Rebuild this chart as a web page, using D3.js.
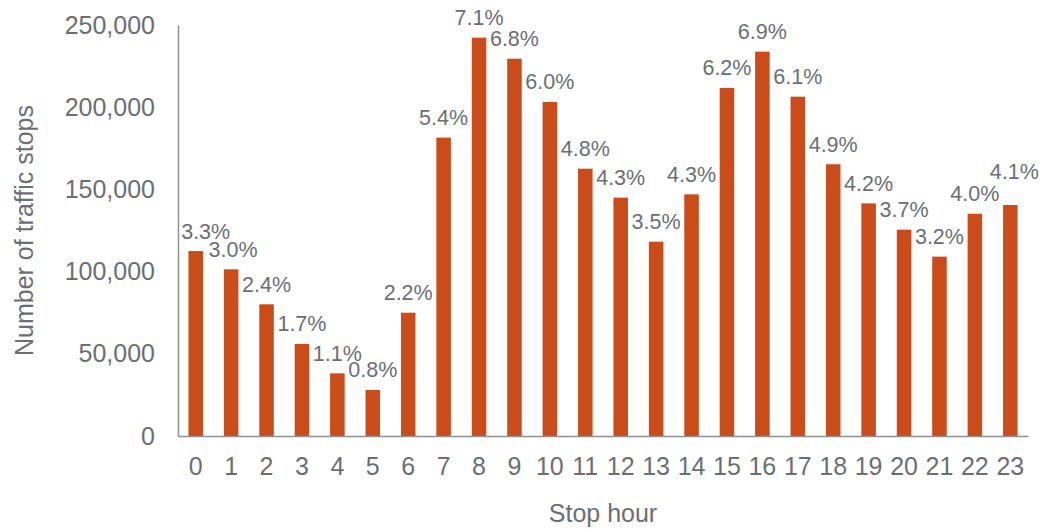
<!DOCTYPE html>
<html>
<head>
<meta charset="utf-8">
<script src="https://cdn.jsdelivr.net/npm/d3@7"></script>
<style>
  html, body { margin: 0; padding: 0; background: #fff; }
  text { font-family: "Liberation Sans", Arial, sans-serif; fill: #6b6f74; }
</style>
</head>
<body>
<svg id="chart" width="1041" height="529"></svg>
<script>
// Traffic stops by hour of day
const hours = ["0","1","2","3","4","5","6","7","8","9","10","11","12","13","14","15","16","17","18","19","20","21","22","23"];
const stops = [112500, 101400, 80100, 56000, 38100, 28000, 75000, 181500, 242300, 229500, 203200, 162600,
               145000, 118200, 147000, 211700, 233800, 206400, 165300, 141500, 125500, 109100, 135200, 140500];
const shareLabels = ["3.3%","3.0%","2.4%","1.7%","1.1%","0.8%","2.2%","5.4%","7.1%","6.8%","6.0%","4.8%",
                     "4.3%","3.5%","4.3%","6.2%","6.9%","6.1%","4.9%","4.2%","3.7%","3.2%","4.0%","4.1%"];
const yTicks = [0, 50000, 100000, 150000, 200000, 250000];

const svg = d3.select("#chart");
const plot = { left: 178, right: 1028, top: 25, bottom: 436 };

const x = d3.scaleBand().domain(hours).range([plot.left, plot.right]).paddingInner(0.59).paddingOuter(0.295);
const y = d3.scaleLinear().domain([0, 250000]).range([plot.bottom, plot.top]);

// bars
svg.append("g").selectAll("rect").data(stops).join("rect")
  .attr("x", (d, i) => x(hours[i]))
  .attr("y", d => y(d))
  .attr("width", x.bandwidth())
  .attr("height", d => y(0) - y(d))
  .attr("fill", "#c94c1a");

// share labels above bars; a few are nudged clear of the axis and of their neighbour
const labelNudge = { 0: [10, 0], 1: [2, 0], 23: [4, -14] };
svg.append("g").selectAll("text").data(stops).join("text")
  .attr("x", (d, i) => x(hours[i]) + x.bandwidth() / 2 + (labelNudge[i] ? labelNudge[i][0] : 0))
  .attr("y", (d, i) => y(d) - 12.5 + (labelNudge[i] ? labelNudge[i][1] : 0))
  .attr("text-anchor", "middle")
  .style("font-size", "21.5px")
  .text((d, i) => shareLabels[i]);

// y axis
const yAxis = svg.append("g").attr("transform", `translate(${plot.left},0)`)
  .call(d3.axisLeft(y).tickValues(yTicks).tickSize(0).tickPadding(23).tickFormat(d3.format(",")));
yAxis.select(".domain").attr("stroke", "#8e9196").attr("stroke-width", 1.5);
yAxis.selectAll("text").style("font-size", "25px").attr("fill", "#6b6f74").attr("font-family", null);

// x axis
const xAxis = svg.append("g").attr("transform", `translate(0,${plot.bottom})`)
  .call(d3.axisBottom(x).tickSize(0).tickPadding(21));
xAxis.select(".domain").attr("stroke", "#8e9196").attr("stroke-width", 1.5);
xAxis.selectAll("text").style("font-size", "25px").attr("fill", "#6b6f74").attr("font-family", null);

// axis titles
svg.append("text")
  .attr("x", (plot.left + plot.right) / 2)
  .attr("y", 522)
  .attr("text-anchor", "middle")
  .style("font-size", "25px")
  .text("Stop hour");

svg.append("text")
  .attr("transform", `translate(33,${(plot.top + plot.bottom) / 2}) rotate(-90)`)
  .attr("text-anchor", "middle")
  .style("font-size", "25px")
  .text("Number of traffic stops");
</script>
</body>
</html>
